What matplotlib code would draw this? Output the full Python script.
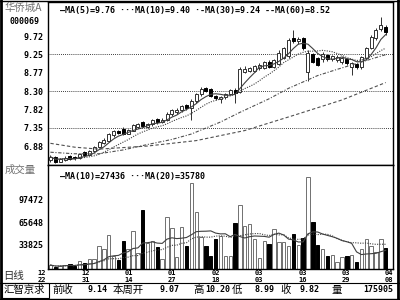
import numpy as np
import pandas as pd
import matplotlib
matplotlib.use("Agg")
import matplotlib.pyplot as plt
from matplotlib.lines import Line2D
from matplotlib.patches import Rectangle

# daily candles, 华侨城A (000069)
opens = [6.52, 6.60, 6.48, 6.53, 6.62, 6.60, 6.56, 6.72, 6.66, 6.75,
         6.85, 6.95, 7.02, 7.16, 7.28, 7.32, 7.20, 7.28, 7.38, 7.50,
         7.38, 7.44, 7.58, 7.50, 7.55, 7.70, 7.76, 7.80, 7.94, 7.86,
         8.04, 8.22, 8.38, 8.36, 8.18, 8.10, 8.14, 8.22, 8.34, 8.28,
         8.80, 8.82, 8.83, 8.90, 8.90, 9.05, 8.92, 9.00, 9.15, 9.20,
         9.68, 9.58, 9.66, 8.80, 9.25, 9.15, 9.12, 9.22, 9.12, 9.10,
         9.05, 9.13, 8.92, 9.00, 8.92, 9.15, 9.42, 9.68, 9.90, 9.95]
closes = [6.60, 6.48, 6.55, 6.58, 6.55, 6.56, 6.68, 6.66, 6.76, 6.85,
          6.98, 7.04, 7.18, 7.26, 7.22, 7.20, 7.30, 7.42, 7.45, 7.40,
          7.45, 7.55, 7.50, 7.56, 7.72, 7.80, 7.82, 7.92, 7.86, 8.05,
          8.22, 8.35, 8.30, 8.16, 8.12, 8.15, 8.22, 8.32, 8.26, 8.88,
          8.88, 8.90, 8.95, 8.98, 9.05, 8.92, 9.10, 9.28, 9.40, 9.62,
          9.60, 9.65, 9.40, 9.28, 9.05, 8.98, 9.25, 9.12, 9.20, 9.18,
          9.15, 9.02, 9.02, 8.92, 9.18, 9.40, 9.70, 9.88, 10.00, 9.82]
highs = [6.66, 6.62, 6.58, 6.62, 6.64, 6.62, 6.70, 6.74, 6.78, 6.88,
         7.00, 7.08, 7.22, 7.30, 7.30, 7.36, 7.33, 7.45, 7.48, 7.53,
         7.48, 7.58, 7.60, 7.60, 7.75, 7.84, 7.85, 7.95, 7.96, 8.10,
         8.26, 8.40, 8.40, 8.38, 8.20, 8.18, 8.25, 8.36, 8.37, 8.92,
         8.95, 8.93, 8.98, 9.02, 9.08, 9.10, 9.14, 9.36, 9.45, 9.66,
         9.87, 9.70, 9.70, 9.35, 9.28, 9.18, 9.30, 9.25, 9.24, 9.22,
         9.18, 9.15, 9.05, 9.03, 9.20, 9.45, 9.75, 9.92, 10.20, 10.00]
lows = [6.48, 6.44, 6.46, 6.50, 6.52, 6.53, 6.54, 6.63, 6.64, 6.72,
        6.82, 6.92, 7.00, 7.12, 7.18, 7.16, 7.18, 7.26, 7.35, 7.36,
        7.34, 7.40, 7.46, 7.47, 7.52, 7.66, 7.72, 7.77, 7.82, 7.55,
        8.00, 8.18, 8.27, 8.14, 8.08, 7.99, 8.10, 8.19, 7.99, 8.25,
        8.76, 8.78, 8.80, 8.85, 8.86, 8.89, 8.90, 8.96, 9.12, 9.16,
        9.55, 9.52, 9.36, 8.56, 9.02, 8.95, 9.06, 9.08, 9.08, 9.05,
        9.00, 8.98, 8.72, 8.88, 8.88, 9.10, 9.38, 9.62, 9.85, 9.76]
volumes = [5600, 2800, 4200, 5600, 7000, 4200, 11300, 8400, 14000, 14000,
           32400, 28200, 47900, 18300, 12700, 39400, 28200, 53500, 22500, 83100,
           36600, 39400, 31000, 14000, 73200, 57700, 16900, 59100, 32400, 121100,
           80300, 45100, 32400, 18300, 42200, 46500, 18300, 18300, 64800, 90100,
           60500, 63400, 42200, 15500, 39400, 35200, 56300, 38000, 38000, 32400,
           49300, 33800, 43600, 129500, 66200, 33800, 28200, 18300, 19700, 9900,
           16900, 18300, 19700, 9900, 28200, 42200, 32400, 23900, 42200, 29600]

# longer moving averages (candle index, value)
ma30_idx = [0, 5, 10, 15, 20, 25, 29, 35, 39, 45, 49, 55, 59, 64, 69]
ma30_val = [6.72, 6.68, 6.68, 6.78, 6.92, 7.05, 7.19, 7.50, 7.75, 8.10,
            8.37, 8.70, 8.86, 9.05, 9.24]
ma60_idx = [0, 5, 10, 20, 30, 40, 50, 60, 69]
ma60_val = [6.95, 6.85, 6.80, 6.88, 7.02, 7.28, 7.67, 8.07, 8.52]

date_top = ["12", "12", "01", "01", "02", "03", "03", "03", "04"]
date_bot = ["22", "31", "14", "27", "18", "03", "16", "29", "08"]

price_ticks = [6.88, 7.35, 7.82, 8.30, 8.77, 9.25, 9.72]
price_grid = [7.35, 8.30, 9.25]
vol_ticks = [33825, 65648, 97472]

n = len(closes)
x = np.arange(n)
o = np.array(opens)
c = np.array(closes)
up = c >= o

fig = plt.figure(figsize=(4, 3), dpi=100)
mono = "DejaVu Sans Mono"
cjk = ["Noto Sans CJK SC", "DejaVu Sans"]

ax = fig.add_axes([48/400, 1 - 165/300, 345/400, 163/300])
axv = fig.add_axes([48/400, 1 - 269/300, 345/400, 104/300])

# price panel
bottoms = np.minimum(o, c)
heights = np.maximum(np.abs(c - o), 0.012)
ax.vlines(x, lows, highs, color="#303030", lw=0.7)
ax.bar(x[up], heights[up], bottom=bottoms[up], width=0.62,
       facecolor="white", edgecolor="#303030", lw=0.7, zorder=3)
ax.bar(x[~up], heights[~up], bottom=bottoms[~up], width=0.62,
       facecolor="black", edgecolor="black", lw=0.7, zorder=3)

cs = pd.Series(closes)
ax.plot(x, cs.rolling(5, min_periods=1).mean(), color="#404040", lw=0.8, zorder=4)
ax.plot(x, cs.rolling(10, min_periods=1).mean(), color="#404040", lw=0.8, ls=(0, (1, 1.2)), zorder=4)
ax.plot(ma30_idx, ma30_val, color="#505050", lw=0.8, ls=(0, (3, 1.5, 1, 1.5)), zorder=4)
ax.plot(ma60_idx, ma60_val, color="#505050", lw=0.8, ls=(0, (3, 2)), zorder=4)

for g in price_grid:
    ax.axhline(g, color="black", lw=0.6, ls=(0, (1, 1.5)), zorder=1)
ax.set_xlim(-0.5, n + 0.5)
ax.set_ylim(6.39, 10.60)
ax.set_yticks(price_ticks)
ax.set_yticklabels(["%.2f" % t for t in price_ticks], family=mono, fontsize=6, weight="bold")
ax.set_xticks([])
ax.tick_params(axis="y", length=0, pad=3)
ax.text(0.035, 0.93, "\u2014MA(5)=9.76 \u00b7\u00b7\u00b7MA(10)=9.40 \u00b7-MA(30)=9.24 --MA(60)=8.52",
        transform=ax.transAxes, family=mono, fontsize=6, weight="bold")

# volume panel
vols = np.array(volumes)
axv.bar(x[up], vols[up], width=0.7, facecolor="white", edgecolor="#707070", lw=0.7)
axv.bar(x[~up], vols[~up], width=0.7, facecolor="black", edgecolor="black", lw=0.7)
vs = pd.Series(volumes)
axv.plot(x, vs.rolling(10, min_periods=1).mean(), color="#404040", lw=0.8)
axv.plot(x, vs.rolling(20, min_periods=1).mean(), color="#404040", lw=0.8, ls=(0, (1, 1.2)))
axv.set_xlim(-0.5, n + 0.5)
axv.set_ylim(0, 146400)
axv.set_yticks(vol_ticks)
axv.set_yticklabels([str(t) for t in vol_ticks], family=mono, fontsize=6, weight="bold")
axv.set_xticks([])
axv.tick_params(axis="y", length=0, pad=3)
axv.text(0.035, 0.87, "\u2014MA(10)=27436 \u00b7\u00b7\u00b7MA(20)=35780",
         transform=axv.transAxes, family=mono, fontsize=6, weight="bold")

for a in (ax, axv):
    for s in a.spines.values():
        s.set_linewidth(1.0)

# date labels
for k, (t, b) in enumerate(zip(date_top, date_bot)):
    xp = (42 + 43.4 * k) / 400
    fig.text(xp, 1 - 273/300, t, family=mono, fontsize=5, weight="bold", ha="center", va="center")
    fig.text(xp, 1 - 280/300, b, family=mono, fontsize=5, weight="bold", ha="center", va="center")

# left labels
fig.text(5/400, 1 - 8/300, "华侨城A", family=cjk, fontsize=7.5, color="#707070", va="center")
fig.text(10/400, 1 - 21/300, "000069", family=mono, fontsize=6, weight="bold", va="center")
fig.text(5/400, 1 - 170/300, "成交量", family=cjk, fontsize=7.5, color="#707070", va="center")
fig.text(3/400, 1 - 276/300, "日线", family=cjk, fontsize=7.5, color="#303030", va="center")

# bottom info bar
yb = 1 - 290/300
fig.text(4/400, yb, "汇智京求", family=cjk, fontsize=7.5, va="center")
fig.add_artist(Rectangle((2/400, 1 - 298/300), 47/400, 15/300, transform=fig.transFigure,
                         fill=False, lw=0.8, ec="black"))
for xp, s, fam in [(52, "前收", cjk), (88, "9.14", mono), (113, "本周开", cjk), (160, "9.07", mono),
                   (193, "高", cjk), (205, "10.20", mono), (232, "低", cjk), (255, "8.99", mono),
                   (280, "收", cjk), (300, "9.82", mono), (332, "量", cjk), (363, "175905", mono)]:
    if fam is mono:
        fig.text(xp/400, yb, s, family=mono, fontsize=6, weight="bold", va="center")
    else:
        fig.text(xp/400, yb, s, family=cjk, fontsize=7.5, va="center")

# outer frame
for coords, lw in [(((1/400, 1/400), (0, 1)), 2.0),
                   (((0, 1), (1 - 0.5/300, 1 - 0.5/300)), 1.0),
                   (((398/400, 398/400), (0, 1)), 2.0),
                   (((0, 1), (1 - 298.5/300, 1 - 298.5/300)), 1.0),
                   (((0, 1), (1 - 283/300, 1 - 283/300)), 0.8)]:
    fig.add_artist(Line2D(coords[0], coords[1], color="black", lw=lw, transform=fig.transFigure))

fig.savefig("out.png", dpi=100)
